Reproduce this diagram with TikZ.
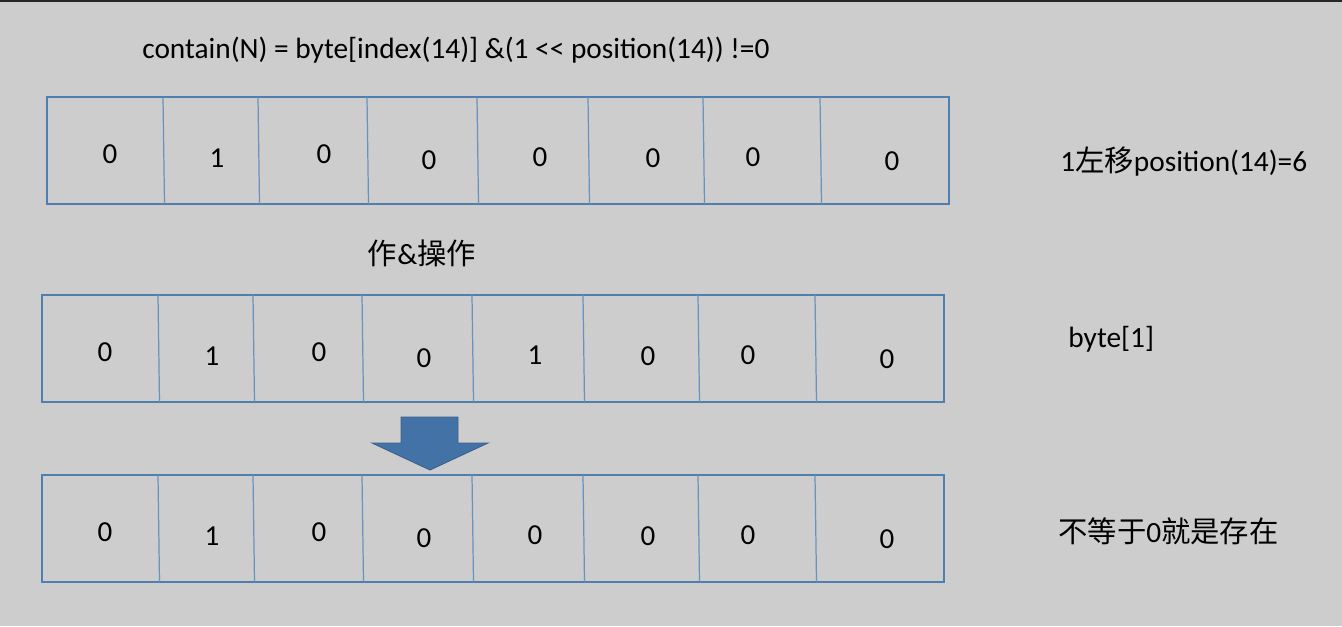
\documentclass[tikz,border=0pt]{standalone}
\usepackage{fontspec}
\setmainfont{Carlito}
\newfontfamily\cjk{Noto Sans CJK SC}
\usetikzlibrary{positioning}

\definecolor{bgray}{HTML}{CDCDCD}
\definecolor{cellline}{HTML}{4F7FB0}
\definecolor{arrowblue}{HTML}{4372A6}

% one row of eight bits: x shift, top edge, digits
\newcommand{\bitrow}[4]{%
  \draw[rowline] (#1+42,#2) rectangle ++(902,107);
  \foreach \x in {158,253,362,472,583,698,815}
    \draw[divline] (#1+\x,#2) -- ++(1.5,107);
  \foreach \d [count=\i from 0] in {#4} {
    \pgfmathsetmacro\cx{{105,212,319,424,535,648,748,887}[\i]}
    \pgfmathsetmacro\cy{{57,61,57,63,60,61,60,64}[\i]}
    \node[bit] (#3c\i) at (#1+\cx,#2+\cy) {\d};
  }%
}

\begin{document}
\begin{tikzpicture}[x=0.02cm,y=-0.02cm,
  rowline/.style={draw=cellline,line width=0.8pt},
  divline/.style={draw=cellline!85!white,line width=0.7pt},
  bit/.style={font=\fontsize{16.5}{19}\selectfont,inner sep=0pt},
  txt/.style={font=\fontsize{16.7}{20}\selectfont,inner sep=0pt}]
  \fill[bgray] (0,0) rectangle (1342,626);
  \useasboundingbox (0,0) rectangle (1342,626);
  \fill[black!85] (0,0) rectangle (1342,2);

  \node[txt,anchor=west] (formula) at (142,50)
    {contain(N) = byte[index(14)] \&(1 {<}{<} position(14)) !=0};

  \bitrow{5}{97}{r1}{0,1,0,0,0,0,0,0}
  \node[txt,anchor=west] (shift) at (1060,162) {1{\cjk 左移}position(14)=6};

  \node[txt] (andop) at (422,253) {{\cjk 作}\&{\cjk 操作}};

  \bitrow{0}{295}{r2}{0,1,0,0,1,0,0,0}
  \node[txt,anchor=west] (byte) at (1068,339) {byte[1]};

  % down arrow
  \filldraw[fill=arrowblue,draw=arrowblue!85!black,line width=0.5pt]
    (401,417) -- (458,417) -- (458,443) -- (488,443) -- (430,470)
    -- (372,443) -- (401,443) -- cycle;

  \bitrow{0}{475}{r3}{0,1,0,0,0,0,0,0}
  \node[txt,anchor=west] (result) at (1058,531) {{\cjk 不等于}0{\cjk 就是存在}};
\end{tikzpicture}
\end{document}
